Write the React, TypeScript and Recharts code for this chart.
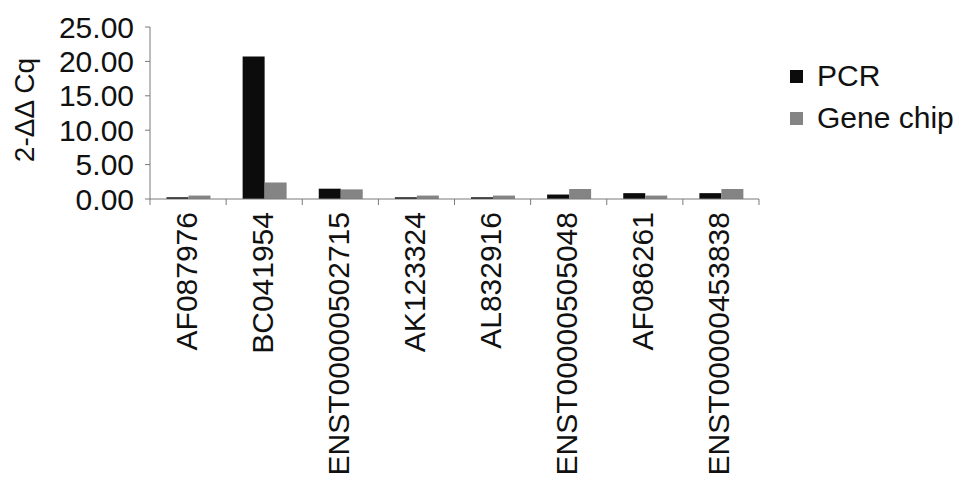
import { Bar, BarChart, Legend, XAxis, YAxis } from "recharts";

const genes = [
  "AF087976",
  "BC041954",
  "ENST00000502715",
  "AK123324",
  "AL832916",
  "ENST00000505048",
  "AF086261",
  "ENST00000453838",
];
const pcr = [0.25, 20.7, 1.5, 0.25, 0.25, 0.65, 0.85, 0.85];
const geneChip = [0.5, 2.4, 1.4, 0.5, 0.5, 1.45, 0.5, 1.45];
const yTicks = [0, 5, 10, 15, 20, 25];

const data = genes.map((gene, i) => ({ gene, pcr: pcr[i], chip: geneChip[i] }));

const FONT = "'Liberation Sans', Arial, sans-serif";
const AXIS = "#7a7a7a";
const PCR_COLOR = "#0c0c0c";
const CHIP_COLOR = "#848484";

const W = 969;
const H = 494;
const LEFT = 150;
const RIGHT = 210;
const TOP = 27;
const PLOT_H = 172;
const BAND = (W - LEFT - RIGHT) / genes.length;

function GeneTick(props: any) {
  const { x, y, payload, index } = props;
  const half = payload?.offset || BAND / 2;
  return (
    <g>
      <line x1={x - half} x2={x - half} y1={y} y2={y + 6} stroke={AXIS} />
      {index === genes.length - 1 && (
        <line x1={x + half} x2={x + half} y1={y} y2={y + 6} stroke={AXIS} />
      )}
      <text
        transform={`translate(${x - 2},${y + 13}) rotate(-90)`}
        textAnchor="end"
        dy="0.35em"
        fontSize={30}
        fontFamily={FONT}
        fill="#111"
      >
        {payload.value}
      </text>
    </g>
  );
}

function LegendBox() {
  const items = [
    { label: "PCR", color: PCR_COLOR },
    { label: "Gene chip", color: CHIP_COLOR },
  ];
  return (
    <div style={{ fontFamily: FONT, fontSize: 30, color: "#111" }}>
      {items.map((it) => (
        <div key={it.label} style={{ display: "flex", alignItems: "center", height: 42 }}>
          <span
            style={{ width: 13, height: 13, background: it.color, marginRight: 14, display: "inline-block" }}
          />
          <span>{it.label}</span>
        </div>
      ))}
    </div>
  );
}

export default function App() {
  return (
    <div style={{ position: "absolute", left: 0, top: 0, width: W, height: H }}>
      <BarChart
        width={W}
        height={H}
        data={data}
        margin={{ top: TOP, right: RIGHT, bottom: 0, left: 0 }}
        barCategoryGap={16.5}
        barGap={0}
      >
        <XAxis
          dataKey="gene"
          interval={0}
          height={H - TOP - PLOT_H}
          tickLine={false}
          tickSize={0}
          tickMargin={0}
          stroke={AXIS}
          tick={<GeneTick />}
        />
        <YAxis
          width={LEFT}
          domain={[0, 25]}
          ticks={yTicks}
          interval={0}
          tickSize={5}
          tickMargin={11}
          stroke={AXIS}
          tickFormatter={(v: number) => v.toFixed(2)}
          tick={{ fontSize: 30, fontFamily: FONT, fill: "#111" }}
          label={{
            content: ({ viewBox }: any) => {
              const cy = viewBox.y + viewBox.height / 2 - 3;
              const cx = 24;
              return (
                <text
                  transform={`translate(${cx},${cy}) rotate(-90)`}
                  textAnchor="middle"
                  dy="0.35em"
                  fontSize={28}
                  fontFamily={FONT}
                  fill="#111"
                >
                  2-ΔΔ Cq
                </text>
              );
            },
          }}
        />
        <Legend
          layout="vertical"
          verticalAlign="middle"
          align="center"
          content={<LegendBox />}
          wrapperStyle={{ left: 790, top: 55, width: 179 }}
        />
        <Bar dataKey="pcr" name="PCR" fill={PCR_COLOR} isAnimationActive={false} />
        <Bar dataKey="chip" name="Gene chip" fill={CHIP_COLOR} isAnimationActive={false} />
      </BarChart>
    </div>
  );
}
